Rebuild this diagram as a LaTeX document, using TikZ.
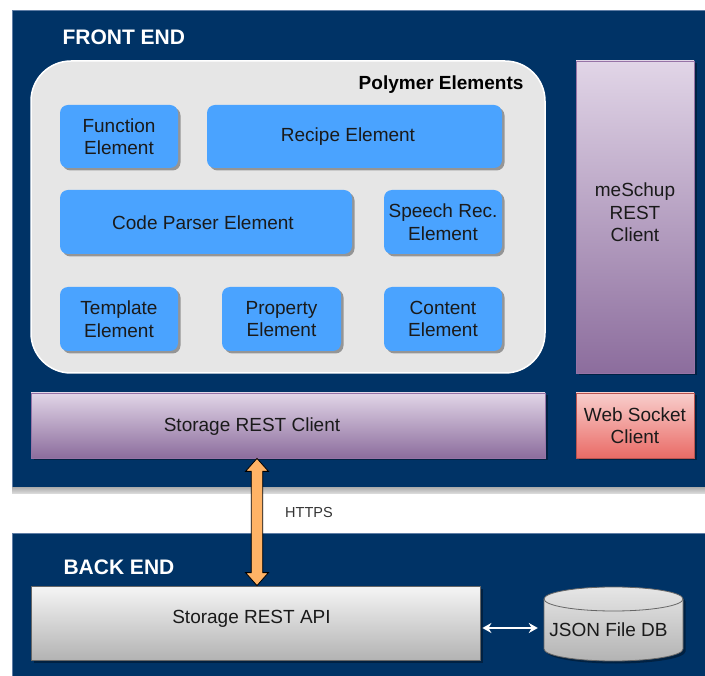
\documentclass[tikz,border=0pt]{standalone}
\usepackage{fontspec}
\setmainfont{Liberation Sans}
\usetikzlibrary{shadows,calc,arrows.meta}

\definecolor{navy}{RGB}{0,51,102}
\definecolor{navyedge}{RGB}{95,125,165}
\definecolor{panelgray}{RGB}{230,230,230}
\definecolor{elemblue}{RGB}{74,163,255}
\definecolor{purptop}{RGB}{225,213,231}
\definecolor{purpbot}{RGB}{140,109,157}
\definecolor{purpedge}{RGB}{150,115,166}
\definecolor{redtop}{RGB}{248,206,204}
\definecolor{redbot}{RGB}{234,107,102}
\definecolor{rededge}{RGB}{184,84,80}
\definecolor{graytop}{RGB}{245,245,245}
\definecolor{graybot}{RGB}{179,179,179}
\definecolor{grayedge}{RGB}{102,102,102}
\definecolor{orangefill}{RGB}{255,179,102}
\definecolor{textdark}{RGB}{26,26,26}

\tikzset{
  softshadow/.style={drop shadow={shadow xshift=2.5pt, shadow yshift=-2.5pt, fill=black, opacity=0.35}},
  lbl/.style={font=\fontsize{19}{22.5}\selectfont, text=textdark, align=center},
  title/.style={font=\fontsize{21}{24}\selectfont\bfseries, text=white, anchor=west},
  elem/.style={lbl, rectangle, rounded corners=8pt, fill=elemblue, draw=none, inner sep=0pt, softshadow},
  purplebox/.style={lbl, rectangle, inner sep=0pt, draw=purpedge, line width=0.8pt,
    top color=purptop, bottom color=purpbot, softshadow},
  redbox/.style={lbl, rectangle, inner sep=0pt, draw=rededge, line width=0.8pt,
    top color=redtop, bottom color=redbot, softshadow},
  graybox/.style={lbl, rectangle, inner sep=0pt, draw=grayedge, line width=0.8pt,
    top color=graytop, bottom color=graybot, softshadow},
  sz/.style 2 args={minimum width=#1pt, minimum height=#2pt},
}

\begin{document}
\begin{tikzpicture}[x=1pt,y=-1pt]
\useasboundingbox (0,0) rectangle (705,676);
\fill[white] (0,0) rectangle (705,676);

% front end and back end panels
\fill[navy] (12,10) rectangle (706,488);
\draw[navyedge, line width=0.8pt] (706,10.4) -- (12.4,10.4) -- (12.4,488);
\fill[top color=black!30, bottom color=black!12] (12,488) rectangle (706,494);
\fill[navy] (12,533) rectangle (706,677);
\draw[navyedge, line width=0.8pt] (706,533.4) -- (12.4,533.4) -- (12.4,677);

\node[title] (fe) at (59,37) {FRONT END};
\node[title] (be) at (60,567) {BACK END};

% Polymer container
\draw[fill=panelgray, draw=white, line width=1.5pt, rounded corners=40pt] (31,61) rectangle (545,373);
\node[font=\fontsize{19}{22}\selectfont\bfseries, text=black, anchor=east] (pe) at (527,85) {Polymer Elements};

% Polymer elements
\node[elem, sz={118}{63}] (fn) at (119,136.5) {Function\\Element};
\node[elem, sz={295}{63}] (rc) at (354.5,136.5) {};
\node[lbl] (rct) at (348,137) {Recipe Element};
\node[elem, sz={292}{64}] (cp) at (206,222) {};
\node[lbl] (cpt) at (203,223) {Code Parser Element};
\node[elem, sz={118}{64}] (sr) at (443,222) {Speech Rec.\\Element};
\node[elem, sz={118}{64}] (tp) at (119,319) {Template\\Element};
\node[elem, sz={119}{64}] (pr) at (281.5,319) {Property\\Element};
\node[elem, sz={118}{64}] (ct) at (443,319) {Content\\Element};

% clients
\node[purplebox, sz={118}{312}] (ms) at (635,217) {};
\node[lbl] (mst) at (635,212.5) {meSchup\\REST\\Client};
\node[purplebox, sz={514}{65}] (sc) at (288,425.5) {};
\node[lbl] (sct) at (252,427) {Storage REST Client};
\node[redbox, sz={118}{65}] (ws) at (635,425.5) {Web Socket\\Client};

% back end
\node[graybox, sz={449}{74}] (api) at (255.5,623) {};
\node[lbl] (apit) at (251.5,619) {Storage REST API};

% JSON database cylinder
\fill[black, opacity=0.35, shift={(2.5,2.5)}]
  (544,599) -- (544,649) arc[start angle=180, end angle=0, x radius=69.5, y radius=12]
  -- (683,599) arc[start angle=0, end angle=-180, x radius=69.5, y radius=12] -- cycle;
\draw[grayedge, line width=0.8pt, top color=panelgray, bottom color=graybot]
  (544,599) -- (544,649) arc[start angle=180, end angle=0, x radius=69.5, y radius=12]
  -- (683,599) arc[start angle=0, end angle=-180, x radius=69.5, y radius=12] -- cycle;
\draw[grayedge, line width=0.8pt] (544,599) arc[start angle=180, end angle=0, x radius=69.5, y radius=12];
\node[sz={139}{74}, inner sep=0pt] (db) at (613.5,624) {};
\node[lbl] (dbt) at (608.5,630) {JSON File DB};

% HTTPS link
\coordinate (ax) at (257,0);
\coordinate (ht) at (sc.south -| ax);
\coordinate (hb) at (api.north -| ax);
\draw[fill=orangefill, draw=black, line width=0.8pt, line join=miter]
  (ht) -- ($(ht)+(11.5,13)$) -- ($(ht)+(5.7,13)$) -- ($(hb)+(5.7,-13)$) -- ($(hb)+(11.5,-13)$)
  -- (hb) -- ($(hb)+(-11.5,-13)$) -- ($(hb)+(-5.7,-13)$) -- ($(ht)+(-5.7,13)$) -- ($(ht)+(-11.5,13)$) -- cycle;
\node[font=\fontsize{14.5}{16}\selectfont, text=black!80] (https) at (309,513) {HTTPS};

% API <-> database
\coordinate (ay) at (0,628);
\draw[white, line width=1.6pt, {Stealth[length=9pt,width=10pt]}-{Stealth[length=9pt,width=10pt]}]
  ($(api.east |- ay)+(2,0)$) -- ($(db.west |- ay)+(-6,0)$);
\end{tikzpicture}
\end{document}
